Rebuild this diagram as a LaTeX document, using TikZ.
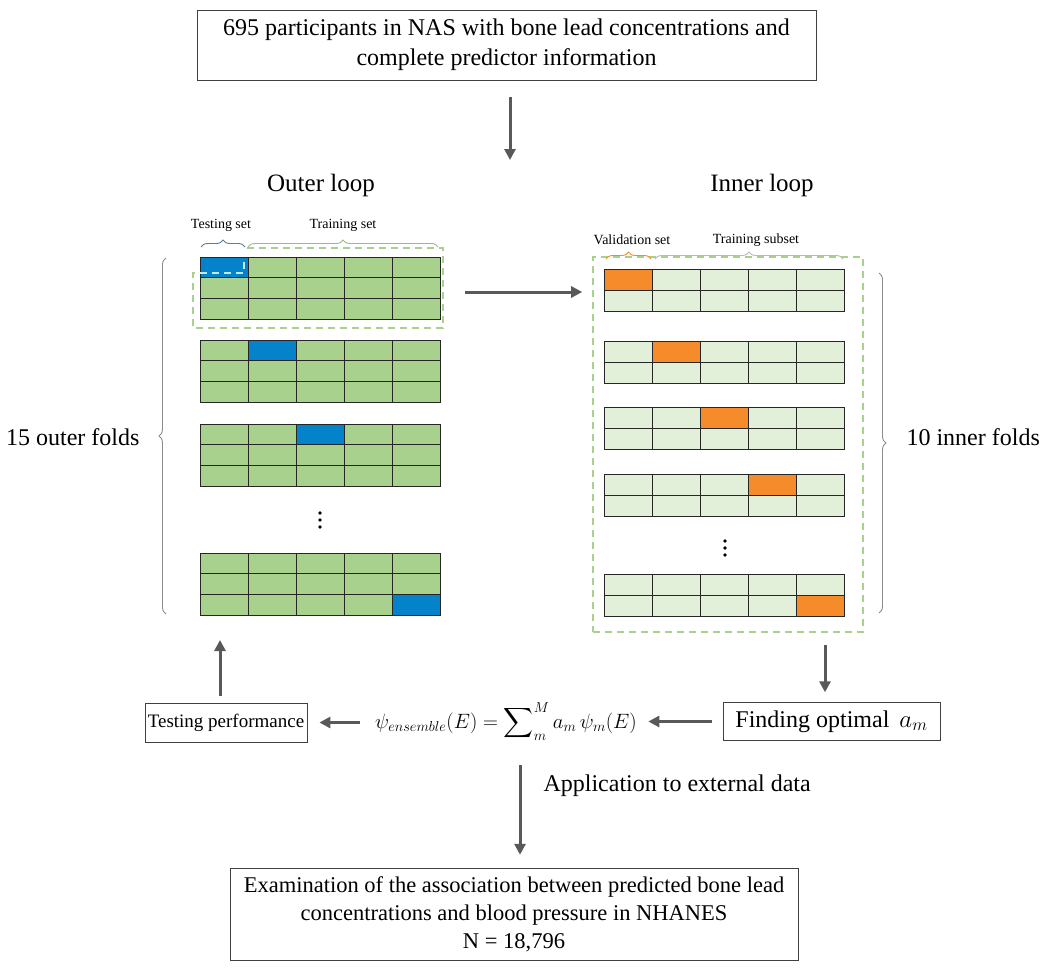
\documentclass[tikz,border=0pt]{standalone}
\usepackage{amsmath}
\usepackage{fontspec}
\setmainfont{Liberation Serif}
\usetikzlibrary{arrows.meta,positioning,decorations.pathreplacing}

\definecolor{cellgreen}{HTML}{A9D18E}
\definecolor{palegreen}{HTML}{E2F0D9}
\definecolor{testblue}{HTML}{0583CA}
\definecolor{valorange}{HTML}{F68B2C}
\definecolor{arrowgray}{HTML}{595959}
\definecolor{bracegray}{HTML}{8C8C8C}
\definecolor{testbrace}{HTML}{5B7F99}

\begin{document}
\begin{tikzpicture}[
  x=1pt, y=-1pt,
  box/.style={
    draw=black!75,
    fill=white,
    align=center,
    font=\fontsize{24}{30}\selectfont,
    inner xsep=7pt,
    inner ysep=5pt
  },
  biglabel/.style={font=\fontsize{24}{28}\selectfont},
  looplabel/.style={font=\fontsize{25}{29}\selectfont},
  smalllabel/.style={font=\fontsize{14}{16}\selectfont},
  arrow/.style={-{Triangle[length=11pt,width=11pt]}, line width=3pt, draw=arrowgray},
  brace/.style={decorate, decoration={brace, amplitude=7pt}, draw=bracegray, line width=0.9pt},
  dashbox/.style={draw=cellgreen, line width=1.6pt, dash pattern=on 7pt off 5pt},
  cell/.style={draw=black!85, line width=1pt}
]
\useasboundingbox (0,0) rectangle (1050,980);

% top and bottom boxes
\node[box, minimum width=619pt, minimum height=70pt] (participants) at (506.5,45)
  {695 participants in NAS with bone lead concentrations and\\complete predictor information};
\coordinate (loopsplit) at (510,160);
\draw[arrow, shorten <=17pt] (loopsplit |- participants.south) -- (loopsplit);

\node[looplabel] (outerlabel) at (321,185) {Outer loop};
\node[looplabel] (innerlabel) at (762,185) {Inner loop};

% outer loop: 15 folds, 3 rows x 5 columns
\foreach \gy/\bc/\br in {257/1/1, 340/2/1, 424/3/1, 553/5/3} {
  \fill[cellgreen] (200,\gy) rectangle (440,{\gy+62});
  \fill[testblue] ({200+48*(\bc-1)},{\gy+62/3*(\br-1)}) rectangle ++(48,62/3);
  \foreach \i in {1,...,4}
    \draw[cell] ({200+48*\i},\gy) -- ++(0,62);
  \foreach \j in {1,2}
    \draw[cell] (200,{\gy+62/3*\j}) -- ++(240,0);
  \draw[cell] (200,\gy) rectangle (440,{\gy+62});
}
\foreach \dy in {-7,0,7}
  \fill (320,{520+\dy}) circle (1.8pt);

% training set outline
\draw[dashbox] (247,248) -- (443,248) -- (443,328) -- (193,328) -- (193,273) -- (200,273);
\draw[dashbox, draw=cyan!25] (200,273) -- (244,273) -- (244,260);

\draw[brace, draw=testbrace] (201,247) -- (245,247);
\draw[brace, draw=cellgreen!70!gray] (248,247) -- (438,247);
\node[smalllabel] (testset) at (221,225) {Testing set};
\node[smalllabel] (trainset) at (343,225) {Training set};

\coordinate (outertop) at (166,258);
\coordinate (outerbottom) at (166,614);
\draw[brace] (outerbottom) -- (outertop);
\node[biglabel, anchor=east] (outerfolds) at (143,437) {15 outer folds};

% inner loop: 10 folds, 2 rows x 5 columns
\node[dashbox, minimum width=270pt, minimum height=375pt] (innerbox) at (728,444.5) {};
\foreach \gy/\oc/\orow in {269/1/1, 341/2/1, 407/3/1, 474/4/1, 574/5/2} {
  \fill[palegreen] (604,\gy) rectangle (844,{\gy+42});
  \fill[valorange] ({604+48*(\oc-1)},{\gy+21*(\orow-1)}) rectangle ++(48,21);
  \foreach \i in {1,...,4}
    \draw[cell] ({604+48*\i},\gy) -- ++(0,42);
  \draw[cell] (604,{\gy+21}) -- ++(240,0);
  \draw[cell] (604,\gy) rectangle (844,{\gy+42});
}
\foreach \dy in {-7,0,7}
  \fill (725,{548+\dy}) circle (1.8pt);

\draw[brace, draw=valorange] (606,259) -- (651,259);
\draw[brace, draw=bracegray!60] (655,259) -- (843,259);
\node[smalllabel] (valset) at (632,240) {Validation set};
\node[smalllabel] (trainsub) at (756,240) {Training subset};

\coordinate (innertop) at (879,273);
\coordinate (innerbottom) at (879,613);
\draw[brace] (innertop) -- (innerbottom);
\node[biglabel, anchor=west] (innerfolds) at (903,437) {10 inner folds};

% outer fold -> inner loop
\coordinate (firstfold) at (452,292);
\draw[arrow, shorten <=13pt, shorten >=10pt] (firstfold) -- (firstfold -| innerbox.west);

% ensemble step
\node[box, minimum width=217pt, minimum height=38pt] (findopt) at (831.5,721.5)
  {Finding optimal \,$a_m$};
\node[box, font=\fontsize{19}{23}\selectfont, inner xsep=3pt, minimum width=158pt, minimum height=39pt] (testperf) at (226,722.5)
  {Testing performance};
\node[font=\fontsize{21}{25}\selectfont] (ensemble) at (506,721.5)
  {$\psi_{ensemble}(E) = \displaystyle\sum\nolimits_{m}^{M} a_m\,\psi_m(E)$};

\coordinate (innerexit) at (825,632);
\draw[arrow, shorten <=13pt, shorten >=10pt] (innerexit) -- (innerexit |- findopt.north);
\draw[arrow, shorten <=11pt, shorten >=8pt] (findopt.west) -- (findopt.west -| ensemble.east);
\draw[arrow, shorten <=12pt, shorten >=12pt] (testperf.east -| ensemble.west) -- (testperf.east);
\coordinate (lastfold) at (220,615);
\draw[arrow, shorten <=7pt, shorten >=25pt] (testperf.north -| lastfold) -- (lastfold);

% external application
\node[box, font=\fontsize{22.5}{28}\selectfont, minimum width=568pt, minimum height=92pt] (examine) at (514,914)
  {Examination of the association between predicted bone lead\\concentrations and blood pressure in NHANES\\N = 18,796};
\coordinate (applystart) at (520,745);
\draw[arrow, shorten <=20pt, shorten >=13pt] (applystart) -- (applystart |- examine.north);
\node[biglabel, anchor=west] (applylabel) at (540,786) {Application to external data};

\end{tikzpicture}
\end{document}
